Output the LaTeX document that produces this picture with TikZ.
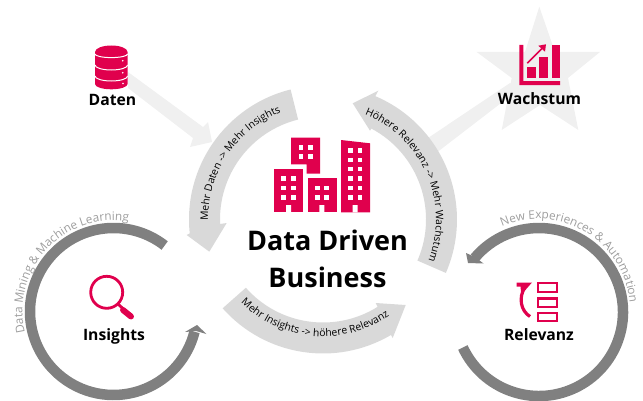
\documentclass[tikz,border=0pt]{standalone}
\usepackage{fontspec}
\setmainfont{Open Sans}
\usetikzlibrary{decorations.text,calc}
\definecolor{brand}{HTML}{E0004D}
\definecolor{bandgray}{HTML}{D9D9D9}
\definecolor{ringgray}{HTML}{808080}
\definecolor{ghost}{HTML}{F0F0F0}
\definecolor{ringtext}{HTML}{9E9E9E}
\newcommand\bandfont{\fontsize{10.4}{12}\selectfont}
\newcommand\ringfont{\fontsize{11.8}{14}\selectfont}
\newcommand\iconwin[2]{\fill[white] (#1,#2) rectangle ++(4.6,4.6);}
\tikzset{
  ydown/.style={shift={(0,400)},yscale=-1},
  ringline/.style={draw=ringgray,line width=10.5pt},
  ringhead/.style={fill=ringgray},
  bandshape/.style={fill=bandgray},
  ghostshape/.style={fill=ghost},
  iconfill/.style={fill=brand},
  iconline/.style={draw=brand,line width=2.3pt},
  label/.style={font=\bfseries\fontsize{15.7}{18}\selectfont,text=black,inner sep=0pt},
  bandtext/.style={decorate,decoration={text along path,text align=center,text={|\bandfont|#1}}},
  ringlabel/.style={decorate,decoration={text along path,text align=center,text color=ringtext,text={|\ringfont|#1}}},
}
\begin{document}
\begin{tikzpicture}[x=1pt,y=1pt]
\useasboundingbox (0,0) rectangle (643,400);
\coordinate (hub) at (323,180.5);
\coordinate (insc) at (113.5,88.5);
\coordinate (relc) at (539,88);
\coordinate (relt) at (538,89);
% ghost arrows and star
\begin{scope}[ydown]
\fill[ghostshape] (128,72) -- (203,127) -- (208,122) -- (212,142) -- (190,147) -- (193,138) -- (128,88) -- cycle;
\fill[ghostshape] (425,140) -- (510,83) -- (520,88.5) -- (430,157.7) -- cycle;
\fill[ghostshape] (539.3,6.7) -- (555,52) -- (600,52) -- (568,78) -- (578.3,130) -- (540,105) -- (501.7,130) -- (511.7,78) -- (476.7,52) -- (525,52) -- cycle;
\end{scope}
% bands
\fill[bandshape] ($(hub)+(104:134pt)$) arc[start angle=104,end angle=186,radius=134pt] -- (186.7,165) -- (209.3,148.3) -- (226.7,177) -- ($(hub)+(182.5:103pt)$) arc[start angle=182.5,end angle=104,radius=103pt] -- cycle;
\fill[bandshape] ($(hub)+(-23.5:134pt)$) arc[start angle=-23.5,end angle=67,radius=134pt] -- (378.3,309.3) -- (352.7,296.7) -- (370,269.3) -- ($(hub)+(62:103pt)$) arc[start angle=62,end angle=-23.5,radius=103pt] -- cycle;
\fill[bandshape] ($(hub)+(221.5:134pt)$) arc[start angle=221.5,end angle=300.5,radius=134pt] -- (392.7,62) -- (405.7,95) -- (375.7,97) -- ($(hub)+(302:103pt)$) arc[start angle=302,end angle=221.5,radius=103pt] -- cycle;
% band text
\path[bandtext={Mehr Daten -> Mehr Insights}] ($(hub)+(182:115pt)$) arc[start angle=182,end angle=110,radius=115pt];
\path[bandtext={Höhere Relevanz -> Mehr Wachstum}] ($(hub)+(69:113pt)$) arc[start angle=69,end angle=-22,radius=113pt];
\path[bandtext={Mehr Insights -> höhere Relevanz}] ($(hub)+(223:117pt)$) arc[start angle=223,end angle=307,radius=117pt];
% rings
\draw[ringline] ($(insc)+(52.2:83.5pt)$) arc[start angle=52.2,end angle=346,radius=83.5pt];
\draw[ringline] ($(relc)+(205:84pt)$) arc[start angle=205,end angle=500,radius=84pt];
\begin{scope}[ydown]
\fill[ringhead] (185,332) -- (197,325) -- (206.5,334) -- (196,331) -- cycle;
\fill[ringhead] (466,253) -- (468,263) -- (483.5,263.5) -- (475,257) -- cycle;
\end{scope}
\path[ringlabel={Data Mining {\&} Machine Learning}] ($(insc)+(194:91pt)$) arc[start angle=194,end angle=80,radius=91pt];
\path[ringlabel={New Experiences {\&} Automation}] ($(relt)+(113:92pt)$) arc[start angle=113,end angle=5,radius=92pt];
% icons
\begin{scope}[ydown]
% database
\fill[iconfill] (95,52) arc[start angle=180,end angle=360,x radius=16.3pt,y radius=6.5pt] -- (127.6,84) arc[start angle=0,end angle=180,x radius=16.3pt,y radius=5.3pt] -- cycle;
\draw[white,line width=1pt] (95,54) arc[start angle=180,end angle=0,x radius=16.3pt,y radius=3.6pt];
\draw[white,line width=1pt] (95,65) arc[start angle=180,end angle=0,x radius=16.3pt,y radius=5pt];
\draw[white,line width=1pt] (95,76) arc[start angle=180,end angle=0,x radius=16.3pt,y radius=5pt];
\fill[white] (122.7,60.7) circle (0.9pt) (122.7,72.7) circle (0.9pt) (122.9,83.5) circle (0.9pt);
% buildings
\fill[iconfill] (291,137.7) -- (320,137.7) -- (320,173.5) -- (306.5,173.5) -- (306.5,164.3) -- (291,164.3) -- cycle;
\fill[iconfill] (274,169) rectangle (302.7,212.3);
\fill[iconfill] (307.7,178.3) rectangle (336.7,212.3);
\fill[iconfill] (341,140) -- (370,143.3) -- (370,212.3) -- (341,212.3) -- cycle;
\fill[white] (286,205) rectangle (291,212.4) (319.3,205) rectangle (324.3,212.4) (352.7,205) rectangle (357.7,212.4);
\iconwin{298.5}{145}\iconwin{308}{145}\iconwin{298.5}{154.4}\iconwin{308}{154.4}
\iconwin{281.3}{176}\iconwin{291}{176}\iconwin{281.3}{185.6}\iconwin{291}{185.6}\iconwin{281.3}{195}\iconwin{291}{195}
\iconwin{315}{185.6}\iconwin{324.4}{185.6}\iconwin{315}{195}\iconwin{324.4}{195}
\iconwin{348.3}{148.3}\iconwin{357.7}{148.3}\iconwin{348.3}{157.5}\iconwin{357.7}{157.5}\iconwin{348.3}{166.8}\iconwin{357.7}{166.8}\iconwin{348.3}{176.3}\iconwin{357.7}{176.3}\iconwin{348.3}{185.6}\iconwin{357.7}{185.6}\iconwin{348.3}{195}\iconwin{357.7}{195}
% magnifier
\draw[brand,line width=2.8pt] (106.7,292.3) circle (16pt);
\draw[brand,line width=2.8pt] (118,304) -- (124,309.5);
\draw[brand,line width=6pt,line cap=round] (123,310) -- (131,316.5);
% relevanz icon
\draw[iconline] (537.8,282.8) rectangle (557.2,291.8);
\draw[iconline] (537.8,298.4) rectangle (557.2,306.8);
\draw[iconline] (537.8,312.8) rectangle (557.2,320.8);
\draw[brand,line width=3.2pt] (530,316.5) .. controls (521,311) and (518,298) .. (525,287);
\fill[iconfill] (516.7,282.5) -- (532,282.5) -- (524.5,291) -- (521.5,297) -- (520.5,286.5) -- (516.7,286.5) -- cycle;
% wachstum icon
\fill[iconfill] (519.3,45) -- (523.3,45) -- (523.3,81) -- (560,81) -- (560,85) -- (519.3,85) -- cycle;
\fill[iconfill] (527.3,66.7) rectangle (536,78.3);
\fill[iconfill] (539.3,56.7) rectangle (548.3,78.3);
\fill[iconfill] (551.7,45) rectangle (560,78.3);
\draw[brand,line width=1.6pt] (527.3,63.3) -- (542.5,48);
\fill[iconfill] (546,44.3) -- (538.3,45.7) -- (545,51.7) -- cycle;
\end{scope}
% labels
\node[label] (daten) at (112.5,300) {Daten};
\node[label] (wachstum) at (539.5,301) {Wachstum};
\node[label] (insights) at (114,64) {Insights};
\node[label] (relevanz) at (539,65) {Relevanz};
\node[font=\bfseries\fontsize{27}{37}\selectfont,align=center,inner sep=0pt] (title) at (327.5,141) {Data Driven\\Business};
\end{tikzpicture}
\end{document}
